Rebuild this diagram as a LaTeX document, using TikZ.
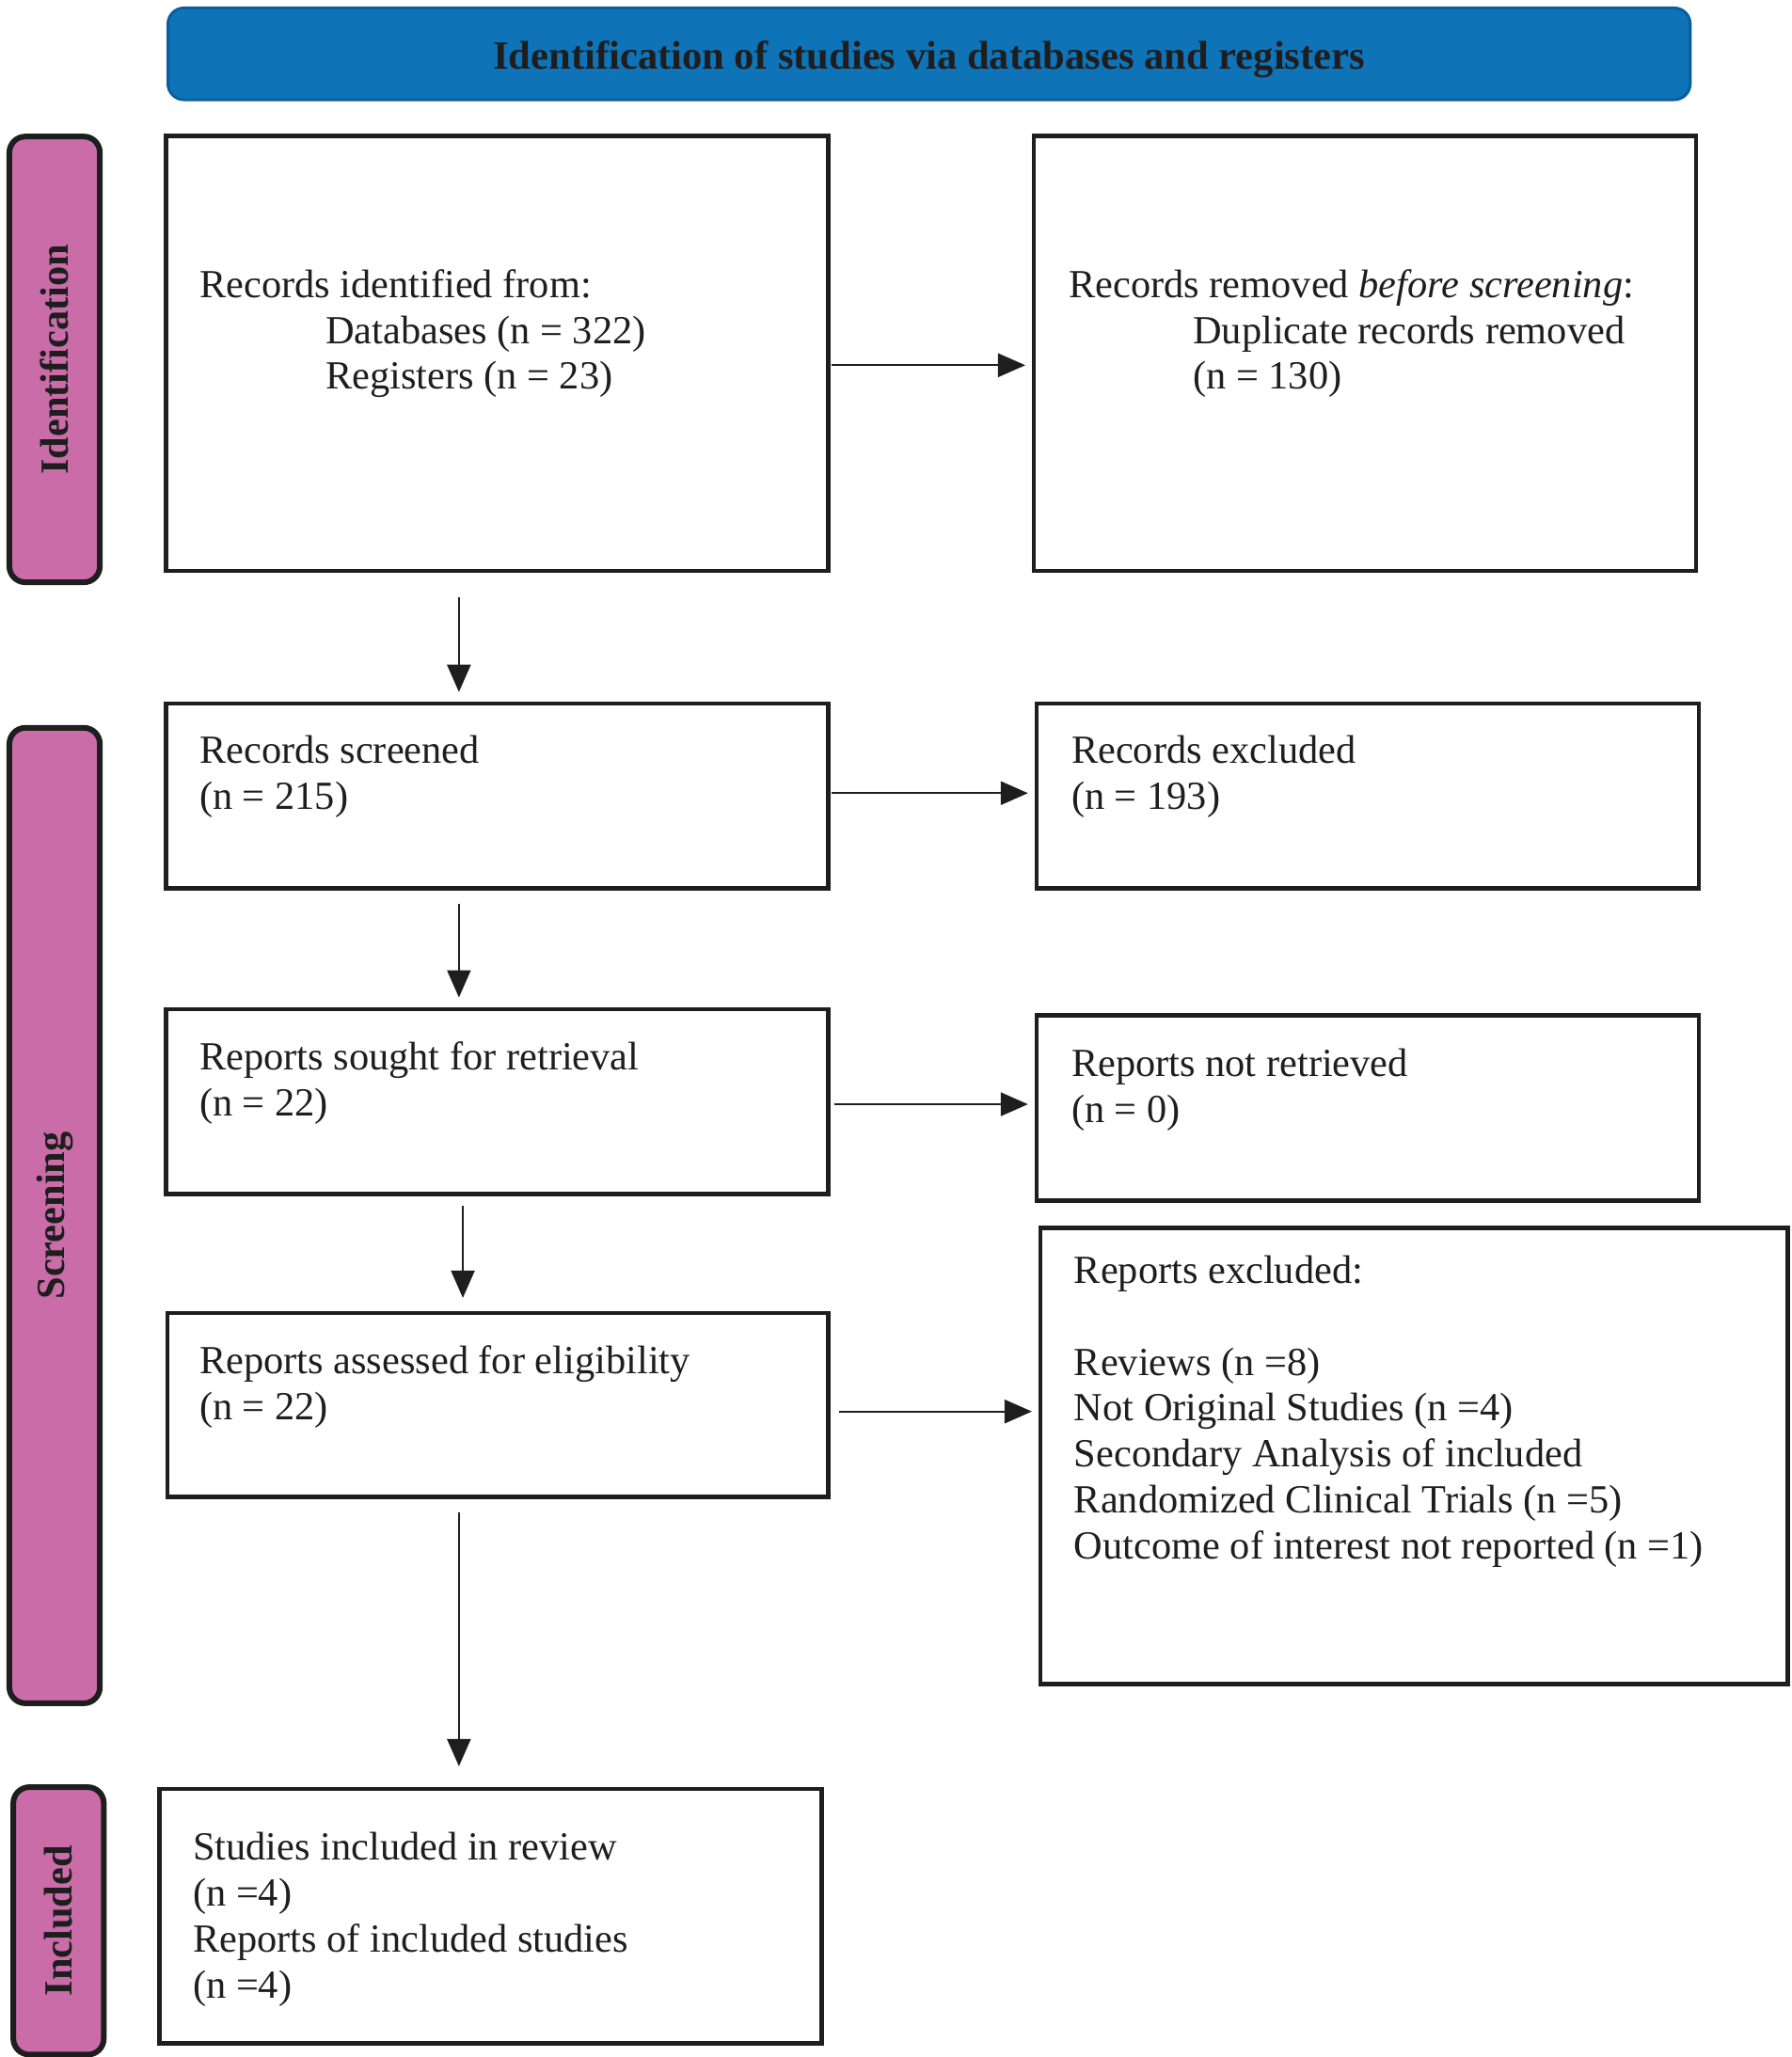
\documentclass[tikz,border=0pt]{standalone}
\usepackage{fontspec}
\setmainfont{Liberation Serif}
\usetikzlibrary{arrows.meta,calc}
\def\pxu{1.3939pt}
\definecolor{hdrblue}{HTML}{0F73B8}
\definecolor{hdrline}{HTML}{0B5E9E}
\definecolor{sidepink}{HTML}{C96CA8}
\definecolor{ink}{HTML}{1E1E1E}
\begin{document}
\begin{tikzpicture}[x=1.3939pt,y=-1.3939pt,
  box/.style={draw=ink, line width=4.5pt, rectangle, inner sep=0pt, anchor=north west},
  side/.style={draw=ink, line width=6pt, fill=sidepink, rounded corners=17pt, inner sep=0pt, anchor=north west},
  txt/.style={anchor=base west, align=left, inner sep=0pt, text=ink, font=\fontsize{42.4}{48.8}\selectfont},
  sidetxt/.style={rotate=90, inner sep=0pt, text=ink, font=\fontsize{42.4}{48.8}\selectfont\bfseries},
  arr/.style={-{Triangle[length=29pt,width=25pt]}, line width=2.2pt, draw=ink}
]
\useasboundingbox (0,0) rectangle (1366,1569);

% header
\node[draw=hdrline, fill=hdrblue, line width=3pt, rounded corners=17pt, inner sep=0pt,
      minimum width=1161*\pxu, minimum height=70*\pxu, anchor=north west] (hdr) at (127,5) {};
\node[inner sep=0pt, text=ink, font=\fontsize{42.6}{48.8}\selectfont\bfseries] (hdrt)
      at ([yshift=-5.5pt]hdr.center) {Identification of studies via databases and registers};

% side labels
\node[side, minimum width=69*\pxu, minimum height=340*\pxu] (sid) at (5,102) {};
\node[sidetxt] (sidt) at (sid.center) {Identification};
\node[side, minimum width=69*\pxu, minimum height=744*\pxu] (scr) at (5,553) {};
\node[sidetxt] (scrt) at (scr.center) {Screening};
\node[side, minimum width=69*\pxu, minimum height=204*\pxu] (inc) at (8,1361) {};
\node[sidetxt] (inct) at (inc.center) {Included};

% boxes
\node[box, minimum width=505*\pxu, minimum height=332*\pxu] (b1) at (125,102) {};
\node[box, minimum width=505*\pxu, minimum height=332*\pxu] (b2) at (787,102) {};
\node[box, minimum width=505*\pxu, minimum height=141*\pxu] (b3) at (125,535) {};
\node[box, minimum width=505*\pxu, minimum height=141*\pxu] (b4) at (789,535) {};
\node[box, minimum width=505*\pxu, minimum height=141*\pxu] (b5) at (125,768) {};
\node[box, minimum width=505*\pxu, minimum height=141*\pxu] (b6) at (789,773) {};
\node[box, minimum width=504*\pxu, minimum height=140*\pxu] (b7) at (126,1000) {};
\node[box, minimum width=570*\pxu, minimum height=348*\pxu] (b8) at (792,935) {};
\node[box, minimum width=505*\pxu, minimum height=194*\pxu] (b9) at (120,1363) {};

% texts (anchored at the baseline of their last line)
\node[txt] (t1) at (152,297) {Records identified from:\\\hspace*{134pt}Databases (n = 322)\\\hspace*{134pt}Registers (n = 23)};
\node[txt] (t2) at (815,297) {Records removed \textit{before screening}:\\\hspace*{132pt}Duplicate records removed\\\hspace*{132pt}(n = 130)};
\node[txt] (t3) at (152,617) {Records screened\\(n = 215)};
\node[txt] (t4) at (817,617) {Records excluded\\(n = 193)};
\node[txt] (t5) at (152,851) {Reports sought for retrieval\\(n = 22)};
\node[txt] (t6) at (817,856) {Reports not retrieved\\(n = 0)};
\node[txt] (t7) at (152,1083) {Reports assessed for eligibility\\(n = 22)};
\node[txt] (t8) at (819,1189) {Reports excluded:\\[48.8pt]Reviews (n =8)\\Not Original Studies (n =4)\\Secondary Analysis of included\\Randomized Clinical Trials (n =5)\\Outcome of interest not reported (n =1)};
\node[txt] (t9) at (147,1524) {Studies included in review\\(n =4)\\Reports of included studies\\(n =4)};

% columns for vertical arrows
\coordinate (c1) at (350,0);
\coordinate (c2) at (353,0);

% arrows
\draw[arr, shorten <=1pt, shorten >=7pt] ([yshift=-12.5pt]b1.east) -- ([yshift=-12.5pt]b1.east -| b2.west);
\draw[arr, shorten <=1pt, shorten >=7pt] ([yshift=3pt]b3.east) -- ([yshift=3pt]b3.east -| b4.west);
\draw[arr, shorten <=4pt, shorten >=7pt] ([yshift=-3pt]b5.east) -- ([yshift=-3pt]b5.east -| b6.west);
\draw[arr, shorten <=9pt, shorten >=7pt] ([yshift=-7pt]b7.east) -- ([yshift=-7pt]b7.east -| b8.west);
\draw[arr, shorten <=26pt, shorten >=10pt] (b1.south -| c1) -- (b3.north -| c1);
\draw[arr, shorten <=14pt, shorten >=10pt] (b3.south -| c1) -- (b5.north -| c1);
\draw[arr, shorten <=10pt, shorten >=14pt] (b5.south -| c2) -- (b7.north -| c2);
\draw[arr, shorten <=14pt, shorten >=22pt] (b7.south -| c1) -- (b9.north -| c1);
\end{tikzpicture}
\end{document}
